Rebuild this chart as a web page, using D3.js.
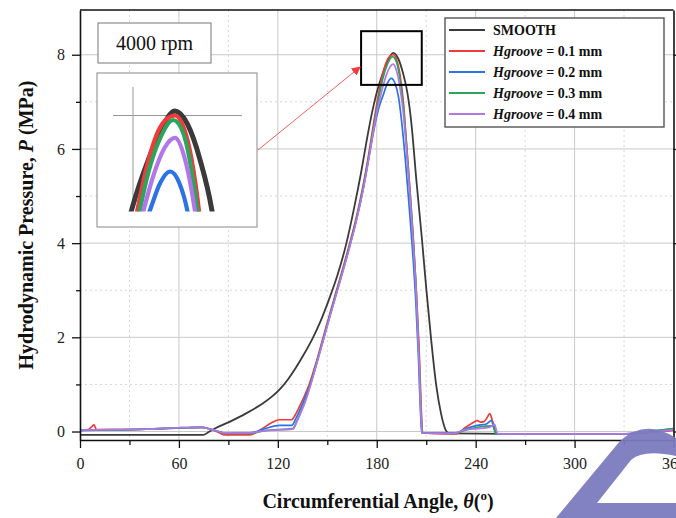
<!DOCTYPE html>
<html><head><meta charset="utf-8">
<script src="https://cdn.jsdelivr.net/npm/d3@7"></script>
<style>body{margin:0;background:#fff}text{font-family:"Liberation Serif","Times New Roman",serif}</style>
</head><body><svg id="c" width="676" height="518"></svg>
<script>
// ---------- data ----------
const angleTicks = [0, 60, 120, 180, 240, 300, 360];
const angleMinor = [30, 90, 150, 210, 270, 330];
const pressureTicks = [0, 2, 4, 6, 8];
const pressureMinor = [1, 3, 5, 7];
const seriesNames = ["SMOOTH", "0.1", "0.2", "0.3", "0.4"];
const seriesColors = ["#3a3a3a", "#f23a3a", "#2a72e6", "#2ea35c", "#b276ea"];

const smooth = [[0,-0.07],[74.8,-0.07],[78,-0.01],[81,0.05],[91,0.21],[101,0.39],[111,0.6],[116,0.73],[121,0.89],[126,1.1],[131,1.36],[136,1.65],[141.4,2.0],[146,2.35],[151,2.8],[156,3.3],[161.6,4.0],[166,4.7],[170.5,5.5],[174,6.2],[177,6.75],[180,7.2],[183.6,7.6],[187,7.9],[190,8.04],[193,7.92],[196,7.6],[198.8,7.15],[201,6.55],[204,5.35],[207.5,4.05],[210,3.05],[213,1.95],[216,1.0],[219,0.38],[222,0.02],[224,-0.04],[260,-0.05],[331,-0.05],[340,-0.03],[350,0.0],[360,0.03]];
const groove01 = [[0,0.03],[5,0.04],[7,0.1],[8.5,0.14],[10,0.04],[30,0.04],[50,0.06],[65,0.08],[74,0.09],[79,0.05],[84,-0.02],[88,-0.07],[103,-0.07],[110,0.05],[116,0.18],[121,0.25],[128.3,0.25],[131,0.38],[133.7,0.57],[136.2,0.76],[139,1.0],[143.1,1.45],[147.1,1.95],[151.1,2.45],[155.2,2.95],[159.3,3.45],[163.4,3.97],[167.4,4.52],[171.3,5.15],[175.4,5.95],[177.9,6.5],[180.5,7.05],[183,7.5],[186,7.86],[188,7.97],[190,8.0],[192,7.9],[194,7.6],[196,7.05],[198,6.15],[200,5.2],[202,4.2],[204,3.0],[205.7,1.75],[207.2,0.32],[207.8,-0.03],[222,-0.05],[228,-0.05],[234,0.09],[238,0.18],[241,0.23],[243,0.2],[245,0.21],[247,0.3],[248.5,0.38],[250.4,0.2],[252.4,-0.03],[253,-0.05],[331,-0.05],[340,-0.03],[350,0.0],[360,0.03]];
const groove02 = [[0,0.02],[10,0.03],[30,0.04],[50,0.06],[65,0.08],[74,0.09],[79,0.05],[84,0.0],[88,-0.03],[103,-0.03],[112,0.06],[121,0.13],[128.5,0.13],[131,0.28],[133.7,0.48],[136.3,0.7],[139.4,0.98],[143.5,1.45],[147.5,1.95],[151.5,2.45],[155.6,2.95],[159.7,3.45],[163.8,3.97],[167.8,4.52],[171.7,5.15],[175.8,5.95],[178.5,6.45],[181.5,6.9],[184,7.15],[186.5,7.4],[188.8,7.5],[191,7.4],[193.2,7.1],[195.2,6.55],[197.4,5.75],[199.6,4.8],[201.7,3.85],[203.7,2.75],[205.2,1.65],[206.7,0.3],[207.3,-0.03],[228,-0.03],[234,0.06],[241,0.13],[246.5,0.16],[249.4,0.23],[251.4,0.04],[252.4,-0.05],[331,-0.05],[340,-0.02],[350,0.02],[360,0.06]];
const groove03 = [[0,0.03],[20,0.04],[40,0.05],[60,0.08],[74,0.09],[79,0.05],[84,0.0],[88,-0.04],[103,-0.04],[112,0.02],[129,0.06],[131.5,0.22],[134,0.42],[136.5,0.64],[139.4,0.95],[143.5,1.45],[147.5,1.95],[151.5,2.45],[155.6,2.95],[159.7,3.45],[163.8,3.97],[167.8,4.52],[171.7,5.15],[175.8,5.95],[178.3,6.5],[180.9,7.02],[183.5,7.47],[186.5,7.8],[189.6,7.96],[192,7.84],[194,7.5],[196,6.95],[198,6.1],[200,5.15],[202,4.15],[204,2.95],[205.5,1.75],[207,0.32],[207.6,-0.03],[226,-0.04],[234,0.03],[241,0.09],[250.4,0.12],[252.4,-0.05],[331,-0.05],[340,-0.02],[350,0.02],[360,0.06]];
const groove04 = [[0,0.03],[20,0.04],[40,0.05],[60,0.08],[74,0.09],[79,0.05],[84,0.0],[88,-0.03],[103,-0.03],[112,0.02],[129.1,0.05],[131.6,0.21],[134.1,0.41],[136.6,0.63],[139.5,0.94],[143.6,1.44],[147.6,1.94],[151.6,2.44],[155.7,2.94],[159.8,3.44],[163.9,3.96],[167.9,4.51],[171.8,5.14],[175.9,5.94],[178.5,6.47],[180.5,6.85],[182.5,7.15],[185,7.48],[187.5,7.71],[190,7.8],[192.3,7.62],[194,7.32],[196,6.8],[198,6.0],[200,5.05],[202,4.05],[204,2.85],[205.4,1.7],[206.9,0.3],[207.5,-0.03],[226,-0.04],[234,0.04],[241,0.06],[248.5,0.09],[251.4,0.15],[253.4,-0.05],[331,-0.05],[340,-0.02],[350,0.0],[360,0.04]];
const allSeries = [smooth, groove01, groove02, groove03, groove04];
// zoom window marked on the main chart (data units)
const zoomBox = {x0: 170.5, x1: 207.3, y0: 7.36, y1: 8.5};

// ---------- chart ----------
const svg = d3.select("#c");
const xs = d3.scaleLinear().domain([0, 360]).range([80, 673.5]);
const ys = d3.scaleLinear().domain([-0.18, 8.95]).range([440, 10]);

// grid
const g = svg.append("g");
g.selectAll(".vmaj").data(angleTicks.slice(1, -1)).join("line")
  .attr("x1", d => xs(d)).attr("x2", d => xs(d)).attr("y1", 10).attr("y2", 440)
  .attr("stroke", "#c9c9c9").attr("stroke-width", 1);
g.selectAll(".vmin").data(angleMinor).join("line")
  .attr("x1", d => xs(d)).attr("x2", d => xs(d)).attr("y1", 10).attr("y2", 440)
  .attr("stroke", "#d6d6d6").attr("stroke-width", 1).attr("stroke-dasharray", "2,3");
g.selectAll(".hmaj").data(pressureTicks).join("line")
  .attr("y1", d => ys(d)).attr("y2", d => ys(d)).attr("x1", 80).attr("x2", 673.5)
  .attr("stroke", "#c9c9c9").attr("stroke-width", 1);
g.selectAll(".hmin").data(pressureMinor).join("line")
  .attr("y1", d => ys(d)).attr("y2", d => ys(d)).attr("x1", 80).attr("x2", 673.5)
  .attr("stroke", "#d6d6d6").attr("stroke-width", 1).attr("stroke-dasharray", "2,3");

// curves
svg.append("clipPath").attr("id", "pc").append("rect").attr("x", 80).attr("y", 10).attr("width", 593.5).attr("height", 430);
const line = d3.line().x(d => xs(d[0])).y(d => ys(d[1])).curve(d3.curveMonotoneX);
const cg = svg.append("g").attr("clip-path", "url(#pc)");
allSeries.forEach((s, i) => {
  cg.append("path").attr("d", line(s)).attr("fill", "none")
    .attr("stroke", seriesColors[i]).attr("stroke-width", i === 0 ? 1.8 : 1.7)
    .attr("stroke-linejoin", "round");
});

// axes
function styleAxis(sel) {
  sel.selectAll("path.domain").attr("stroke", "#111").attr("stroke-width", 1.6);
  sel.selectAll(".tick line").attr("stroke", "#111").attr("stroke-width", 1.3);
  sel.selectAll("text").attr("font-size", 16).attr("fill", "#222")
    .attr("font-family", "Liberation Serif, serif");
}
svg.append("g").attr("transform", "translate(0,440)")
  .call(d3.axisBottom(xs).tickValues(angleTicks).tickSize(8).tickSizeOuter(0).tickPadding(10).tickFormat(d3.format("d")))
  .call(styleAxis);
svg.append("g").attr("transform", "translate(0,440)")
  .call(d3.axisBottom(xs).tickValues(angleMinor).tickSize(5).tickFormat(""))
  .call(s => s.select(".domain").remove()).call(styleAxis);
svg.append("g").attr("transform", "translate(80,0)")
  .call(d3.axisLeft(ys).tickValues(pressureTicks).tickSize(8).tickSizeOuter(0).tickPadding(7).tickFormat(d3.format("d")))
  .call(styleAxis);
svg.append("g").attr("transform", "translate(80,0)")
  .call(d3.axisLeft(ys).tickValues(pressureMinor).tickSize(4).tickFormat(""))
  .call(s => s.select(".domain").remove()).call(styleAxis);
svg.append("g").attr("transform", "translate(673.5,0)")
  .call(d3.axisRight(ys).tickValues(pressureTicks).tickSize(6).tickSizeOuter(0).tickFormat(""))
  .call(styleAxis);
svg.append("line").attr("x1", 80).attr("x2", 673.5).attr("y1", 10).attr("y2", 10)
  .attr("stroke", "#111").attr("stroke-width", 1.6);

// axis titles
const xt = svg.append("text").attr("x", 378).attr("y", 508).attr("text-anchor", "middle")
  .attr("font-size", 20).attr("font-weight", "bold").attr("fill", "#111");
xt.append("tspan").text("Circumferential Angle, ");
xt.append("tspan").attr("font-style", "italic").text("θ");
xt.append("tspan").text("(");
xt.append("tspan").attr("font-size", 13).attr("dy", -8).text("o");
xt.append("tspan").attr("dy", 8).text(")");
const yt = svg.append("text").attr("transform", "translate(33,225) rotate(-90)").attr("text-anchor", "middle")
  .attr("font-size", 20).attr("font-weight", "bold").attr("fill", "#111");
yt.append("tspan").text("Hydrodynamic Pressure, ");
yt.append("tspan").attr("font-style", "italic").text("P");
yt.append("tspan").text(" (MPa)");

// legend
const lg = svg.append("g");
lg.append("rect").attr("x", 445).attr("y", 18).attr("width", 219).attr("height", 109)
  .attr("fill", "#fff").attr("stroke", "#555").attr("stroke-width", 1.4);
seriesNames.forEach((n, i) => {
  const y = 30 + i * 21;
  lg.append("line").attr("x1", 449).attr("x2", 485).attr("y1", y).attr("y2", y)
    .attr("stroke", seriesColors[i]).attr("stroke-width", 2);
  const t = lg.append("text").attr("x", 493).attr("y", y + 5).attr("font-size", 14)
    .attr("font-weight", "bold").attr("fill", "#111");
  if (i === 0) t.text(n);
  else {
    t.append("tspan").attr("font-style", "italic").text("Hgroove");
    t.append("tspan").text(" = " + n + " mm");
  }
});

// zoom rectangle + arrow
svg.append("rect").attr("x", xs(zoomBox.x0)).attr("y", ys(zoomBox.y1))
  .attr("width", xs(zoomBox.x1) - xs(zoomBox.x0)).attr("height", ys(zoomBox.y0) - ys(zoomBox.y1))
  .attr("fill", "none").attr("stroke", "#000").attr("stroke-width", 2);
svg.append("defs").append("marker").attr("id", "ah").attr("viewBox", "0 0 10 10")
  .attr("refX", 9).attr("refY", 5).attr("markerWidth", 9).attr("markerHeight", 9)
  .attr("orient", "auto").attr("markerUnits", "userSpaceOnUse")
  .append("path").attr("d", "M0,0 L10,5 L0,10 z").attr("fill", "#f23a3a");
svg.append("line").attr("x1", 258).attr("y1", 150).attr("x2", xs(zoomBox.x0) - 1).attr("y2", 67)
  .attr("stroke", "#f56060").attr("stroke-width", 1).attr("marker-end", "url(#ah)");

// rpm label
svg.append("rect").attr("x", 98).attr("y", 23).attr("width", 113).attr("height", 40)
  .attr("fill", "#fff").attr("stroke", "#777").attr("stroke-width", 1);
svg.append("text").attr("x", 154.5).attr("y", 50).attr("text-anchor", "middle")
  .attr("font-size", 20).attr("fill", "#111").text("4000 rpm");

// inset
svg.append("rect").attr("x", 97).attr("y", 73).attr("width", 160).attr("height", 154)
  .attr("fill", "#fff").attr("stroke", "#888").attr("stroke-width", 1);
const ixs = d3.scaleLinear().domain([180, 190]).range([133, 175]);
const iys = d3.scaleLinear().domain([7.5, 8.0]).range([171.5, 115.5]);
svg.append("line").attr("x1", ixs(180)).attr("x2", ixs(180)).attr("y1", 87).attr("y2", 210)
  .attr("stroke", "#999").attr("stroke-width", 1);
svg.append("line").attr("x1", 113).attr("x2", 242).attr("y1", iys(8)).attr("y2", iys(8))
  .attr("stroke", "#999").attr("stroke-width", 1);
svg.append("clipPath").attr("id", "ic").append("rect").attr("x", 98).attr("y", 74).attr("width", 158).attr("height", 137.5);
const iline = d3.line().x(d => ixs(d[0])).y(d => iys(d[1])).curve(d3.curveMonotoneX);
const ig = svg.append("g").attr("clip-path", "url(#ic)");
[0, 1, 3, 4, 2].forEach(i => {
  ig.append("path").attr("d", iline(allSeries[i])).attr("fill", "none")
    .attr("stroke", seriesColors[i]).attr("stroke-width", i === 0 ? 5 : 4.2);
});

// watermark
svg.append("path")
  .attr("d", "M556,518 L620,441 Q645,418 676,438 L676,518 Z M597,503 L631,460 Q643,449 676,456 L676,503 Z")
  .attr("fill", "#7b7bbf").attr("fill-rule", "evenodd").attr("opacity", 0.95);
</script></body></html>
